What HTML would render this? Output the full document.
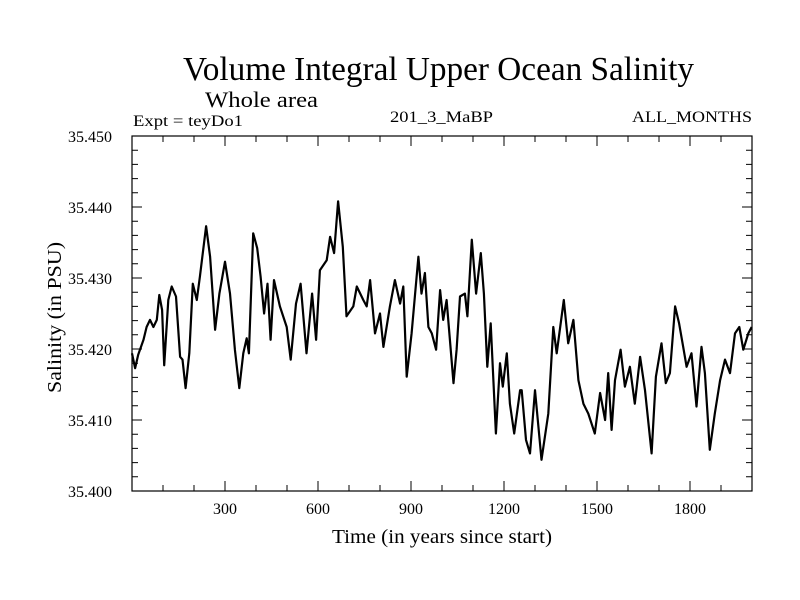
<!DOCTYPE html>
<html><head><meta charset="utf-8"><style>
html,body{margin:0;padding:0;background:#fff;}
svg{display:block;font-family:"Liberation Serif",serif;}
</style></head><body>
<svg id="chart" width="800" height="600" viewBox="0 0 800 600" xmlns="http://www.w3.org/2000/svg">
<rect width="800" height="600" fill="#fff"/>
<text x="183" y="80" font-size="34" textLength="511" lengthAdjust="spacingAndGlyphs">Volume Integral Upper Ocean Salinity</text>
<text x="205" y="107" font-size="22" textLength="113" lengthAdjust="spacingAndGlyphs">Whole area</text>
<text x="133" y="126" font-size="16" textLength="110" lengthAdjust="spacingAndGlyphs">Expt = teyDo1</text>
<text x="390" y="122" font-size="16" textLength="103" lengthAdjust="spacingAndGlyphs">201_3_MaBP</text>
<text x="632" y="122" font-size="16" textLength="120" lengthAdjust="spacingAndGlyphs">ALL_MONTHS</text>
<text transform="translate(61,393) rotate(-90)" font-size="20" textLength="151" lengthAdjust="spacingAndGlyphs">Salinity (in PSU)</text>
<text x="332" y="543" font-size="20" textLength="220" lengthAdjust="spacingAndGlyphs">Time (in years since start)</text>
<g id="axes"></g>
<rect x="132" y="136" width="620" height="355" fill="none" stroke="#000" stroke-width="1.2"/>
<path id="series" fill="none" stroke="#000" stroke-width="2.2" stroke-linejoin="round"/>
</svg>
<script>
const years=[0,10,20,37,47,58,69,80,88,97,104,117,128,142,155,163,173,185,196,209,219,239,252,268,282,300,316,332,346,359,370,377,391,404,415,426,437,447,458,477,499,512,529,544,563,581,594,606,628,639,652,665,680,692,714,725,746,757,768,784,800,811,832,848,865,875,886,902,924,934,945,956,967,981,994,1004,1015,1037,1047,1058,1074,1082,1096,1110,1125,1135,1146,1157,1174,1187,1196,1209,1219,1233,1252,1257,1271,1284,1300,1321,1343,1359,1370,1393,1407,1424,1440,1456,1472,1493,1510,1526,1536,1547,1558,1576,1590,1606,1622,1639,1655,1676,1690,1708,1722,1735,1752,1765,1778,1789,1805,1821,1837,1848,1864,1880,1897,1913,1929,1945,1959,1972,1988,1999];
const salinity=[35.4194,35.4173,35.4192,35.4213,35.4231,35.4241,35.4231,35.4241,35.4276,35.4255,35.4177,35.4269,35.4288,35.4274,35.4189,35.4185,35.4145,35.4194,35.4292,35.4269,35.4302,35.4373,35.4330,35.4227,35.4278,35.4323,35.4278,35.4199,35.4145,35.4194,35.4215,35.4194,35.4363,35.4342,35.4302,35.4250,35.4292,35.4213,35.4297,35.4260,35.4231,35.4185,35.4264,35.4292,35.4194,35.4278,35.4213,35.4311,35.4325,35.4358,35.4335,35.4408,35.4344,35.4246,35.4260,35.4288,35.4269,35.4260,35.4297,35.4222,35.4250,35.4203,35.4260,35.4297,35.4264,35.4288,35.4161,35.4222,35.4330,35.4278,35.4307,35.4231,35.4222,35.4199,35.4283,35.4241,35.4269,35.4152,35.4199,35.4274,35.4278,35.4246,35.4354,35.4278,35.4335,35.4278,35.4175,35.4236,35.4081,35.4180,35.4147,35.4194,35.4123,35.4081,35.4142,35.4142,35.4072,35.4053,35.4142,35.4044,35.4109,35.4231,35.4194,35.4269,35.4208,35.4241,35.4156,35.4123,35.4109,35.4081,35.4138,35.4100,35.4166,35.4086,35.4156,35.4199,35.4147,35.4175,35.4123,35.4189,35.4142,35.4053,35.4161,35.4208,35.4152,35.4166,35.4260,35.4236,35.4203,35.4175,35.4194,35.4119,35.4203,35.4166,35.4058,35.4109,35.4156,35.4185,35.4166,35.4222,35.4231,35.4199,35.4222,35.4231];
const xTicks=[300,600,900,1200,1500,1800];
const yTicks=[35.400,35.410,35.420,35.430,35.440,35.450];
const yTickLabels=["35.400","35.410","35.420","35.430","35.440","35.450"];
const X0=132,X1=752,Y0=491,Y1=136,xMin=0,xMax=2000,yMin=35.40,yMax=35.45;
const sx=v=>X0+(v-xMin)/(xMax-xMin)*(X1-X0);
const sy=v=>Y0-(v-yMin)/(yMax-yMin)*(Y0-Y1);
const NS="http://www.w3.org/2000/svg";
const g=document.getElementById('axes');
function mk(tag,attrs){const e=document.createElementNS(NS,tag);for(const k in attrs)e.setAttribute(k,attrs[k]);g.appendChild(e);return e;}
let d='';
for(let v=100;v<xMax;v+=100){const x=sx(v);const L=(v%300===0)?10:6;d+=`M${x},${Y0}v${-L}M${x},${Y1}v${L}`;}
for(let i=1;i<25;i++){const v=yMin+i*0.002;const y=sy(v);const L=(i%5===0)?10:6;d+=`M${X0},${y}h${L}M${X1},${y}h${-L}`;}
const t=mk('path',{d:d,stroke:'#000','stroke-width':1,fill:'none'});


xTicks.forEach(v=>{const e=mk('text',{x:sx(v),y:514,'font-size':16,'text-anchor':'middle'});e.textContent=String(v);

});
yTicks.forEach((v,i)=>{const e=mk('text',{x:112,y:sy(v)+6,'font-size':16,'text-anchor':'end'});e.textContent=yTickLabels[i];

});
document.getElementById('series').setAttribute('d',years.map((y,i)=>(i?'L':'M')+sx(y).toFixed(1)+','+sy(salinity[i]).toFixed(1)).join(''));
</script>
</body></html>
